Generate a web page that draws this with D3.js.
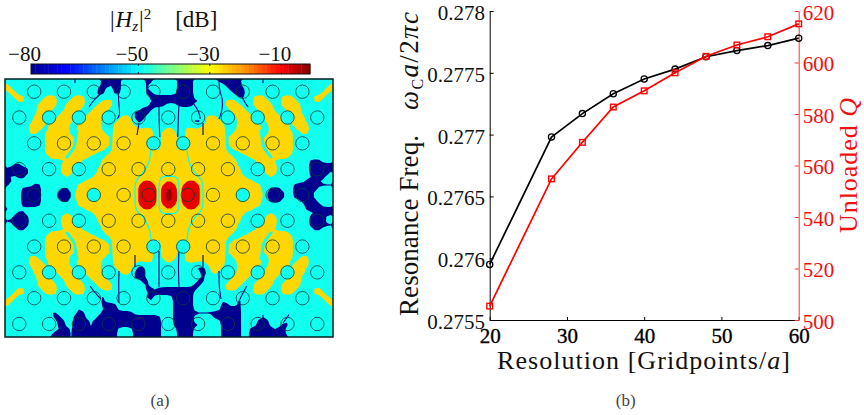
<!DOCTYPE html>
<html><head><meta charset="utf-8">
<style>
html,body{margin:0;padding:0;background:#fff}
svg{display:block}
text{font-family:"Liberation Serif",serif;fill:#111}
.it{font-style:italic}
</style>
<script src="https://cdn.jsdelivr.net/npm/d3@7"></script>
</head><body>
<svg id="c" width="864" height="415"></svg>
<script>
// ---------- panel (b) data ----------
const resolution=[20,28,32,36,40,44,48,52,56,60];
const resonanceFreq=[0.27595,0.27698,0.27717,0.27733,0.27745,0.27753,0.27763,0.27768,0.27772,0.27778];
const unloadedQ=[505.4,554.8,569,582.7,589,596,602.4,606.8,610,615];
const xTicks=[20,30,40,50,60];
const freqTicks=[0.2755,0.276,0.2765,0.277,0.2775,0.278];
const freqTickLabels=["0.2755","0.276","0.2765","0.277","0.2775","0.278"];
const qTicks=[500,520,540,560,580,600,620];

// ---------- panel (a) data: colour bar ----------
const barTicks=[-80,-50,-30,-10];
const barStopsDb=[-80,-70,-50,-40,-30,-20,-10,-2];
const barStopsColor=["#00008f","#0000ff","#00ffff","#80ff80","#ffff00","#ff9000","#ff0000","#800000"];
const levelThresholds=[-1000,-50,-30,-10,-2.5];
const levelColors=["#00008f","#11ffee","#ffd700","#e60000","#8f0000"];

// ---------- panel (a) data: field, cell runs per row ----------
// Lobes are read on the upper-left quadrant; the picture shows them mirrored about the cavity.
const yellowQuad=["","0","0-1","1-2","2-4 10-12 17-19","3-4 9-12 16-19 24-26","8-12 15-19 23-26","8-11 15-18 22-25","8-10 14-17 21-24",
"7-10 13-16 20-23 29-31","7-9 12-16 19-23 28-32","6-9 11-15 18-23 27-32","6-8 11-15 18-23 27-36 40","6-7 10-15 18-24 27-36 39-40",
"10-16 18-25 27-36 39-40","10-16 18-25 27-36 39-40","10-16 18-25 27-36 39-40","10-16 18-24 27-36 39-40","10-15 17-22 26-40",
"11-14 16-20 25-40","15-18 24-40","14-18 24-40","14-16 23-40","14-16 23-40","15 22-40",
"20-40","18-40","18-40","17-40"];
const redQuad={25:"34-36 40",26:"33-37 39-40",27:"33-37 39",28:"33-37 39"};
const darkQuad={27:"40",28:"40"};
const navyRows={0:"24-28 35-36 43-46 53-58",1:"24-25 27-28 35 43-46 55-58",2:"23-24 27-28 35 43-46 56-59",3:"23-24 27-28 35-36 43-46 57-59",4:"23 36-46 58-59",5:"37-48",6:"36-39 43-46",7:"34-36",8:"32-35",9:"32-34",10:"32-33 47-49",11:"33-34 47-48",
20:"76-78",21:"2-3 76-81",22:"0-5 76-81",23:"1-5 76-80",24:"0 3-4 77-79",25:"0-1 75-77",26:"0 7-8 72-81",27:"4-8 14-15 66-68 72-77",28:"4-8 13-16 65-69 72-76",29:"4-8 13-16 65-69 72-76",30:"4-8 14-15 66-68 74-77",31:"4-8 75-78",32:"0-1 75-81",33:"3-4 78-81",34:"2-5 76-79",35:"0-5 76-79",36:"2-5 76-81",37:"3-4 77-78",
46:"33-34 48-49",47:"32-34 48-50",48:"32-34 49-50",49:"32-34 49",50:"34-35 48-49",51:"35 47-48",52:"35-36 38-47",53:"36-46",54:"23-24 35-36 42-46",55:"24 36 42-46 54 58-59",56:"24-27 42-46 54-55 58",57:"18 25-27 42-46 54-58",
58:"11-12 18-19 24-31 42-58",59:"12-13 17-19 23-38 42-46 52-58 64",60:"13-14 17-20 22-38 42-46 54-58 63-65 70",61:"13-14 17-20 22-38 42-48 54-58 63-65 69-70",62:"14-15 17-20 22-27 32-38 43-46 54-58 61-66 68-69",63:"12-15 17-27 32-38 43-46 54-58 61-69",64:"11-15 17-27 32-38 43-46 54-58 61-70"};
const edgeYellow={45:"0 81"};
// channels between the lobes and thin nodal lines, [cell column, cell row] along each line
const channelLinesQuad=[[[18,13],[17.6,15],[17.5,17],[16.3,18.5],[15.5,19.5]],[[26.5,13],[26.5,17.5],[25.6,18.5]]];
const cyanLinesQuad=[[[36.5,17.5],[36.3,20],[35.5,22],[34.5,23.5],[33.5,24.5],[32.5,25.5],[32.5,29]],
[[38.5,29],[38.5,25],[39.5,24.3],[41,24.3]]];
const navyLines=[[[28.5,1],[28.3,4],[28.5,7],[28.8,9],[28,10]],[[53.5,0.5],[53.6,3],[54.5,5],[54.3,8],[53.5,10]],
[[38.5,6],[38.5,10],[38.7,14.5]],[[43.5,6],[43.3,10],[43.2,14.5]],[[23.5,4],[22,5.5],[21,7]],[[59,4],[60,6],[60.8,7]],
[[47,6],[48.5,8],[48.8,10]],[[49.5,11],[49.5,14]],[[33.5,11],[33,14]],[[17.5,0],[17.5,1]],[[64.5,0],[64.5,1]],
[[38.5,43],[38.5,47],[38.5,52]],[[43.5,43],[43.3,47],[43.5,52]],[[32.5,44],[32.5,47]],[[49.5,44],[49.5,47]],
[[28.5,48],[28.4,52],[28.5,56]],[[53.5,48],[53.5,52],[54,55]],[[21.3,51.8],[22.5,53.5],[24,55]],[[60.4,51.8],[59.5,53.5],[58.5,55.5]],
[[64.5,59],[64.5,61]],[[71,58.9],[69.5,61]]];

// lattice of air holes, in half-period units about the cavity
const holeRows=[-4,-3,-2,-1,0,1,2,3,4,5];
const holeColsOdd=[-9,-7,-5,-3,-1,1,3,5,7,9];
const holeColsEven=[-10,-8,-6,-4,-2,0,2,4,6,8,10];
const holeColsCavity=[-9,-7,-5,-3,-1.31,1.31,3,5,7,9];
const cyanHoles=["-3:-8","-3:-6","-3:-4","-3:4","-3:6","-3:8","-2:-1","-2:1","-1:-6","-1:6","0:-5","0:5","1:-6","1:6","2:-1","2:1","3:-8","3:-6","3:-4","3:4","3:6","3:8"];

// ---------- build the field ----------
const NX=82,NY=65,DB={c:-40,y:-20,r:-5,d:0,n:-60};
const values=new Float64Array(NX*NY).fill(DB.c);
const runs=s=>(s||"").split(" ").filter(Boolean).map(t=>{const p=t.split("-").map(Number);return[p[0],p.length>1?p[1]:p[0]];});
const setCell=(c,r,v)=>{if(c>=0&&c<NX&&r>=0&&r<NY)values[r*NX+c]=v;};
function paintQuad(rowOf,v){for(const k of Object.keys(rowOf)){const r=+k;for(const[a,b]of runs(rowOf[k]))for(let c=a;c<=b;c++){setCell(c,r,v);setCell(NX-1-c,r,v);setCell(c,57-r,v);setCell(NX-1-c,57-r,v);}}}
function paintRows(rowOf,v){for(const k of Object.keys(rowOf)){const r=+k;for(const[a,b]of runs(rowOf[k]))for(let c=a;c<=b;c++)setCell(c,r,v);}}
paintQuad(Object.fromEntries(yellowQuad.map((s,i)=>[i,s])),DB.y);
paintRows(edgeYellow,DB.y);
paintQuad(redQuad,DB.r);
paintQuad(darkQuad,DB.d);
paintRows(navyRows,DB.n);

// light smoothing so that the cell edges read as the picture's curved contours
const kernel=[0.15,0.7,0.15];
function smooth(src){
  const at=(a,c,r)=>a[Math.min(NY-1,Math.max(0,r))*NX+Math.min(NX-1,Math.max(0,c))];
  const h=new Float64Array(NX*NY),v=new Float64Array(NX*NY);
  for(let r=0;r<NY;r++)for(let c=0;c<NX;c++)h[r*NX+c]=kernel[0]*at(src,c-1,r)+kernel[1]*at(src,c,r)+kernel[2]*at(src,c+1,r);
  for(let r=0;r<NY;r++)for(let c=0;c<NX;c++)v[r*NX+c]=kernel[0]*at(h,c,r-1)+kernel[1]*at(h,c,r)+kernel[2]*at(h,c,r+1);
  return v;
}
const smoothed=smooth(smooth(values));

const svg=d3.select("#c");
const defs=svg.append("defs");
defs.append("clipPath").attr("id","fieldClip").append("rect").attr("x",5).attr("y",79).attr("width",328).attr("height",258);

// ---------- panel (a) ----------
const cellX=d3.scaleLinear().domain([0,NX]).range([5,333]);
const cellY=d3.scaleLinear().domain([0,NY]).range([79,339]);
const geo=d3.geoPath(d3.geoTransform({point(x,y){this.stream.point(cellX(x),cellY(y));}}));
const field=svg.append("g").attr("clip-path","url(#fieldClip)");
const contours=d3.contours().size([NX,NY]).thresholds(levelThresholds)(Array.from(smoothed));
field.append("g").selectAll("path").data(contours).join("path").attr("d",geo).attr("fill",(d,i)=>levelColors[i]);

const thinLine=d3.line().x(d=>cellX(d[0])).y(d=>cellY(d[1])).curve(d3.curveBasis);
const mirror=list=>list.flatMap(l=>[l,l.map(p=>[NX-p[0],p[1]]),l.map(p=>[p[0],58-p[1]]),l.map(p=>[NX-p[0],58-p[1]])]);
field.append("g").selectAll("path").data(mirror(channelLinesQuad)).join("path").attr("d",thinLine).attr("fill","none").attr("stroke",levelColors[1]).attr("stroke-width",3).attr("stroke-linecap","round");
field.append("g").selectAll("path").data(mirror(cyanLinesQuad)).join("path").attr("d",thinLine).attr("fill","none").attr("stroke",levelColors[1]).attr("stroke-width",1.4);
field.append("g").selectAll("path").data(navyLines).join("path").attr("d",thinLine).attr("fill","none").attr("stroke",levelColors[0]).attr("stroke-width",1.1);

const holeX=d3.scaleLinear().domain([-10,10]).range([19.3,317.3]);
const holeY=d3.scaleLinear().domain([-4,5]).range([91.7,324]);
const holes=holeRows.flatMap(r=>(r===0?holeColsCavity:(r%2===0?holeColsOdd:holeColsEven)).map(c=>({r,c})));
field.append("g").selectAll("circle").data(holes).join("circle")
 .attr("cx",d=>holeX(d.c)).attr("cy",d=>holeY(d.r)).attr("r",6.7)
 .attr("fill",d=>cyanHoles.includes(d.r+":"+d.c)?levelColors[1]:"none")
 .attr("stroke","#0b3a3a").attr("stroke-width",0.8);
svg.append("rect").attr("x",5).attr("y",79).attr("width",328).attr("height",258).attr("fill","none").attr("stroke","#04201f").attr("stroke-width",1.5);

// colour bar
const barX=d3.scaleLinear().domain([-80,-2]).range([31,310]);
const barColor=d3.scaleLinear().domain(barStopsDb).range(barStopsColor);
const barEdges=d3.range(-80,-2,78/64);
svg.append("g").selectAll("rect").data(barEdges).join("rect")
 .attr("x",d=>barX(d)).attr("y",64).attr("width",279/64+0.4).attr("height",10)
 .attr("fill",d=>barColor(d+78/128));
svg.append("rect").attr("x",31).attr("y",64).attr("width",279).attr("height",10).attr("fill","none").attr("stroke","#111").attr("stroke-width",1);
const barG=svg.append("g");
barG.selectAll("path").data(barTicks.slice(1)).join("path")
 .attr("d",d=>`M${barX(d)},64v2M${barX(d)},74v-2`).attr("stroke","#111").attr("stroke-width",1);
barG.selectAll("text").data(barTicks).join("text")
 .attr("x",d=>barX(d)-6.5).attr("y",60.5).attr("text-anchor","middle").attr("font-size",21)
 .text(d=>"\u2212"+Math.abs(d));

// title
const title=svg.append("text").attr("x",110).attr("y",27).attr("font-size",23);
title.append("tspan").text("|");
title.append("tspan").attr("class","it").attr("dx",1).text("H");
title.append("tspan").attr("class","it").attr("dy",4).attr("font-size",15).text("z");
title.append("tspan").attr("dy",-4).attr("dx",1).text("|");
title.append("tspan").attr("dy",-8).attr("font-size",15).text("2");
title.append("tspan").attr("dy",8).attr("dx",24).text("[dB]");

svg.append("text").attr("x",160).attr("y",406).attr("text-anchor","middle").attr("font-size",17).style("fill","#444").text("(a)");
svg.append("text").attr("x",625.7).attr("y",406).attr("text-anchor","middle").attr("font-size",17).style("fill","#444").text("(b)");

// ---------- panel (b) ----------
const x=d3.scaleLinear().domain([20,60]).range([489.7,798.7]);
const yF=d3.scaleLinear().domain([0.2755,0.278]).range([320,11]);
const yQ=d3.scaleLinear().domain([500,620]).range([320,11]);
const axL=svg.append("g").attr("transform","translate(489.7,0)")
 .call(d3.axisLeft(yF).tickValues(freqTicks).tickFormat((d,i)=>freqTickLabels[i]).tickSizeInner(-4).tickSizeOuter(0).tickPadding(4.7));
const axB=svg.append("g").attr("transform","translate(0,320)")
 .call(d3.axisBottom(x).tickValues(xTicks).tickFormat(d3.format("d")).tickSizeInner(-3).tickSizeOuter(0).tickPadding(8));
const axR=svg.append("g").attr("transform","translate(798.7,0)")
 .call(d3.axisRight(yQ).tickValues(qTicks).tickSizeInner(-4).tickSizeOuter(0).tickPadding(4));
axL.selectAll("text").attr("font-size",21).attr("font-family",null).attr("dy","0.4em");
axB.selectAll("text").attr("font-size",21).attr("font-family",null).style("fill","#000").style("stroke","#000").style("stroke-width",0.35);
axR.selectAll("text").attr("font-size",21).attr("font-family",null).attr("dy","0.4em").style("fill","#f01010");
axL.selectAll("path,line").attr("stroke","#000");
axB.selectAll("path,line").attr("stroke","#000");
axR.selectAll("path,line").attr("stroke","#ff3030");
axR.attr("fill",null);

const lineF=d3.line().x((d,i)=>x(resolution[i])).y(d=>yF(d));
const lineQ=d3.line().x((d,i)=>x(resolution[i])).y(d=>yQ(d));
svg.append("path").attr("d",lineF(resonanceFreq)).attr("fill","none").attr("stroke","#000").attr("stroke-width",1.7);
svg.append("g").selectAll("circle").data(resonanceFreq).join("circle")
 .attr("cx",(d,i)=>x(resolution[i])).attr("cy",d=>yF(d)).attr("r",3.1)
 .attr("fill","none").attr("stroke","#000").attr("stroke-width",1.3);
svg.append("path").attr("d",lineQ(unloadedQ)).attr("fill","none").attr("stroke","#ff0000").attr("stroke-width",1.7);
svg.append("g").selectAll("rect").data(unloadedQ).join("rect")
 .attr("x",(d,i)=>x(resolution[i])-2.8).attr("y",d=>yQ(d)-2.8).attr("width",5.6).attr("height",5.6)
 .attr("fill","none").attr("stroke","#ff0000").attr("stroke-width",1.4);

// axis titles
const xt=svg.append("text").attr("x",497).attr("y",368.5).attr("font-size",26).attr("textLength",293);
xt.append("tspan").text("Resolution [Gridpoints/");
xt.append("tspan").attr("class","it").text("a");
xt.append("tspan").text("]");

svg.append("text").attr("transform","translate(418,316) rotate(-90)").attr("font-size",27).attr("textLength",181).text("Resonance Freq.");
const om=svg.append("text").attr("transform","translate(418,110) rotate(-90)").attr("font-size",27).attr("textLength",98);
om.append("tspan").attr("class","it").text("\u03c9");
om.append("tspan").attr("dy",5).attr("font-size",16).text("C");
om.append("tspan").attr("dy",-5).attr("class","it").text("a");
om.append("tspan").text("/2");
om.append("tspan").attr("class","it").text("\u03c0c");

const qt=svg.append("text").attr("transform","translate(857,233) rotate(-90)").attr("font-size",26).attr("textLength",135).style("fill","#f01010");
qt.append("tspan").text("Unloaded ");
qt.append("tspan").attr("class","it").text("Q");
</script>
</body></html>
